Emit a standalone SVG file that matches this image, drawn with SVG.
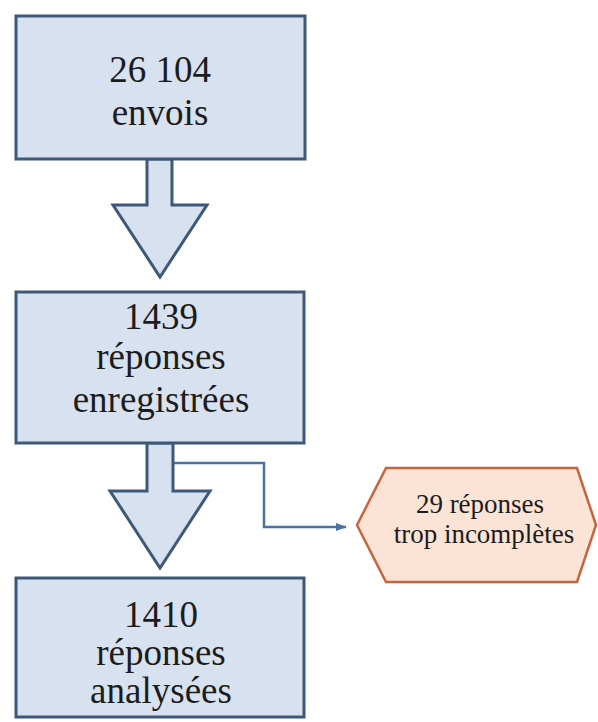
<svg xmlns="http://www.w3.org/2000/svg" width="598" height="722" viewBox="0 0 598 722">
<style>
.box{fill:#d7e1ef;stroke:#3e5878;stroke-width:3}
.flow{fill:#d7e1ef;stroke:#3e5878;stroke-width:3;stroke-linejoin:miter}
.t{font-size:37px;fill:#1c1c1c;text-anchor:middle}
.ts{font-size:27px;fill:#1c1c1c;text-anchor:middle}
.hex{fill:#fbe3d6;stroke:#c5643d;stroke-width:2.5}
.conn{fill:none;stroke:#4a73a3;stroke-width:2.5}
</style>
<defs>
<marker id="ah" markerWidth="11" markerHeight="10" refX="10" refY="5" orient="auto" markerUnits="userSpaceOnUse">
<path d="M0,1 L11,5 L0,9 Z" fill="#4a73a3"/>
</marker>
</defs>
<rect width="598" height="722" fill="#ffffff"/>
<g id="connectors">
<path class="conn" d="M174,463 H264 V527 H346" marker-end="url(#ah)"/>
<polygon id="arrow1" class="flow" points="147,159 147,205 113,205 160,277 207,205 172,205 172,159"/>
<polygon id="arrow2" class="flow" points="147,443 147,491 110,491 160,568 210,491 173,491 173,443"/>
</g>
<g font-family="Liberation Serif, DejaVu Serif, serif">
<g id="node-envois">
<rect class="box" x="16" y="16" width="289" height="143"/>
<text class="t" x="160" y="82">26 104</text>
<text class="t" x="160" y="125">envois</text>
</g>
<g id="node-enregistrees">
<rect class="box" x="16" y="292" width="288" height="151"/>
<text class="t" x="161" y="329">1439</text>
<text class="t" x="161" y="369">réponses</text>
<text class="t" x="161" y="412">enregistrées</text>
</g>
<g id="node-analysees">
<rect class="box" x="16" y="578" width="288" height="139"/>
<text class="t" x="161" y="627">1410</text>
<text class="t" x="161" y="665">réponses</text>
<text class="t" x="161" y="703">analysées</text>
</g>
<g id="node-incompletes">
<polygon class="hex" points="357,525 386,468 577,468 596,525 577,582 386,582"/>
<text class="ts" x="480" y="513">29 réponses</text>
<text class="ts" x="484" y="543">trop incomplètes</text>
</g>
</g>
</svg>
